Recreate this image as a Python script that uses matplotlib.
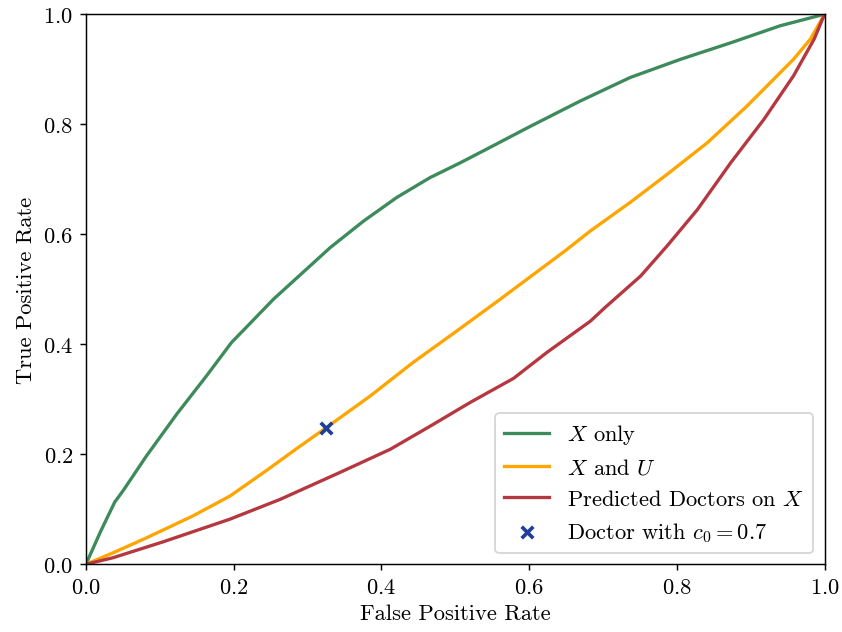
import matplotlib
matplotlib.use("Agg")
import matplotlib.pyplot as plt

# ROC curves
fpr_x_only = [0, 0.01, 0.02, 0.039, 0.051, 0.082, 0.123, 0.163, 0.197, 0.218, 0.254,
              0.331, 0.376, 0.421, 0.466, 0.507, 0.543, 0.6, 0.669, 0.737, 0.805,
              0.873, 0.94, 1.0]
tpr_x_only = [0, 0.03, 0.06, 0.113, 0.135, 0.197, 0.273, 0.342, 0.403, 0.432, 0.482,
              0.576, 0.624, 0.667, 0.703, 0.730, 0.755, 0.795, 0.842, 0.885, 0.918,
              0.948, 0.979, 1.0]

fpr_x_u = [0, 0.037, 0.082, 0.145, 0.195, 0.245, 0.285, 0.324, 0.385, 0.443, 0.502,
           0.556, 0.602, 0.647, 0.683, 0.737, 0.787, 0.841, 0.895, 0.958, 0.981, 1.0]
tpr_x_u = [0, 0.021, 0.048, 0.088, 0.124, 0.171, 0.210, 0.247, 0.306, 0.367, 0.424,
           0.477, 0.523, 0.568, 0.606, 0.658, 0.709, 0.766, 0.833, 0.918, 0.955, 1.0]

fpr_doctors = [0, 0.037, 0.105, 0.195, 0.263, 0.344, 0.412, 0.466, 0.520, 0.579, 0.624,
               0.683, 0.703, 0.751, 0.787, 0.828, 0.873, 0.918, 0.958, 0.986, 1.0]
tpr_doctors = [0, 0.012, 0.041, 0.082, 0.118, 0.167, 0.209, 0.251, 0.294, 0.338, 0.385,
               0.442, 0.467, 0.524, 0.579, 0.645, 0.730, 0.809, 0.888, 0.955, 1.0]

doctor_fpr = 0.325
doctor_tpr = 0.247

plt.rcParams['font.family'] = 'serif'
plt.rcParams['font.serif'] = ['cmr10', 'DejaVu Serif']
plt.rcParams['mathtext.fontset'] = 'cm'
plt.rcParams['axes.formatter.use_mathtext'] = True
plt.rcParams['font.size'] = 12.3

fig, ax = plt.subplots(figsize=(6.4, 4.81), dpi=131.6)
ax.plot(fpr_x_only, tpr_x_only, color='#3d8a5b', lw=1.8, label=r'$X$ only')
ax.plot(fpr_x_u, tpr_x_u, color='#ffa500', lw=1.8, label=r'$X$ and $U$')
ax.plot(fpr_doctors, tpr_doctors, color='#b5373f', lw=1.8, label=r'Predicted Doctors on $X$')
ax.scatter([doctor_fpr], [doctor_tpr], marker='x', color='#1f3f99', s=40, linewidths=2,
           zorder=5, label=r'Doctor with $c_0 = 0.7$')

ax.set_xlim(0, 1)
ax.set_ylim(0, 1)
ax.set_xlabel('False Positive Rate')
ax.set_ylabel('True Positive Rate')
ax.legend(loc='lower right')

fig.subplots_adjust(left=0.102, right=0.979, bottom=0.107, top=0.976)
fig.savefig('out.png', dpi=131.6)
